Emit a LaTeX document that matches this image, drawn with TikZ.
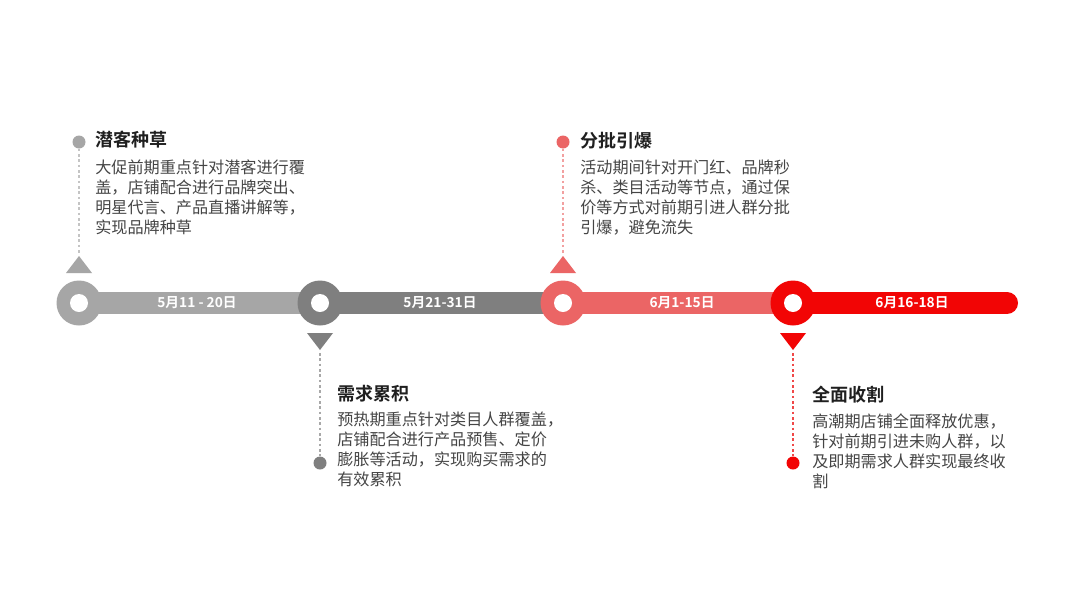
\documentclass[tikz,border=0pt]{standalone}
\usepackage{fontspec}
\setmainfont{Noto Sans CJK SC}[BoldFont={Noto Sans CJK SC Bold}]
\usetikzlibrary{calc}
\definecolor{cA}{HTML}{A6A6A6}
\definecolor{cB}{HTML}{7F7F7F}
\definecolor{cC}{HTML}{EB6565}
\definecolor{cD}{HTML}{F20505}
\definecolor{gA}{HTML}{C4C4C4}
\definecolor{gB}{HTML}{A8A8A8}
\definecolor{gC}{HTML}{F2A0A0}
\definecolor{gD}{HTML}{F04848}
\definecolor{titlec}{HTML}{1F1F1F}
\definecolor{bodyc}{HTML}{454545}
\begin{document}
\begin{tikzpicture}[x=0.75pt,y=-0.75pt,
  ring/.style={circle,inner sep=0pt,minimum size=33.75pt,fill=#1},
  hole/.style={circle,inner sep=0pt,minimum size=13.5pt,fill=white},
  seg/.style={line width=16.5pt,draw=#1},
  dot/.style={circle,inner sep=0pt,minimum size=9.75pt,fill=#1},
  guide/.style={draw=#1,line width=0.9pt,dash pattern=on 2pt off 2pt},
  title/.style={anchor=west,inner sep=0pt,font=\bfseries\fontsize{13.5pt}{16pt}\selectfont,text=titlec},
  body/.style={anchor=north west,inner sep=0pt,align=left,font=\fontsize{12.1pt}{15pt}\selectfont,text=bodyc},
  datelbl/.style={inner sep=0pt,font=\bfseries\fontsize{10.3pt}{12pt}\selectfont,text=white}]
\useasboundingbox[fill=white] (0,0) rectangle (1080,607);

% ring positions
\coordinate (p1) at (79,303);
\coordinate (p2) at (320,303);
\coordinate (p3) at (563,303);
\coordinate (p4) at (793,303);
\coordinate (pend) at (1007,303);

% bar segments
\draw[seg=cA] (p1) -- (p2);
\draw[seg=cB] (p2) -- (p3);
\draw[seg=cC] (p3) -- (p4);
\draw[seg=cD,line cap=round] (p4) -- (pend);

% rings
\node[ring=cA] (c1) at (p1) {};
\node[ring=cB] (c2) at (p2) {};
\node[ring=cC] (c3) at (p3) {};
\node[ring=cD] (c4) at (p4) {};
\node[hole] (h1) at (c1) {};
\node[hole] (h2) at (c2) {};
\node[hole] (h3) at (c3) {};
\node[hole] (h4) at (c4) {};

% date labels
\node[datelbl] (l1) at (197,303) {5月11 - 20日};
\node[datelbl] (l2) at (440,303) {5月21-31日};
\node[datelbl] (l3) at (682,303) {6月1-15日};
\node[datelbl] (l4) at (912,303) {6月16-18日};

% triangles
\fill[cA] (c1.center) ++(-13,-30) -- ++(26,0) -- ++(-13,-17) -- cycle;
\fill[cB] (c2.center) ++(-13,30) -- ++(26,0) -- ++(-13,17) -- cycle;
\fill[cC] (c3.center) ++(-13,-30) -- ++(26,0) -- ++(-13,-17) -- cycle;
\fill[cD] (c4.center) ++(-13,30) -- ++(26,0) -- ++(-13,17) -- cycle;
\coordinate (t1) at ($(c1.center)+(0,-50)$);
\coordinate (t2) at ($(c2.center)+(0,50)$);
\coordinate (t3) at ($(c3.center)+(0,-50)$);
\coordinate (t4) at ($(c4.center)+(0,50)$);

% dots
\node[dot=cA] (d1) at (79,142) {};
\node[dot=cB] (d2) at (320,463) {};
\node[dot=cC] (d3) at (563,142) {};
\node[dot=cD] (d4) at (793,463) {};

% dashed guides
\draw[guide=gA] (d1) -- (t1);
\draw[guide=gB] (t2) -- (d2);
\draw[guide=gC] (d3) -- (t3);
\draw[guide=gD] (t4) -- (d4);

% texts
\node[title] (T1) at (95,140) {潜客种草};
\node[body] (B1) at (95,160) {大促前期重点针对潜客进行覆\\盖，店铺配合进行品牌突出、\\明星代言、产品直播讲解等，\\实现品牌种草};

\node[title] (T2) at (337,394) {需求累积};
\node[body] (B2) at (337,412) {预热期重点针对类目人群覆盖，\\店铺配合进行产品预售、定价\\膨胀等活动，实现购买需求的\\有效累积};

\node[title] (T3) at (580,141) {分批引爆};
\node[body] (B3) at (580,160) {活动期间针对开门红、品牌秒\\杀、类目活动等节点，通过保\\价等方式对前期引进人群分批\\引爆，避免流失};

\node[title] (T4) at (812,395) {全面收割};
\node[body] (B4) at (812,413) {高潮期店铺全面释放优惠，\\针对前期引进未购人群，以\\及即期需求人群实现最终收\\割};
\end{tikzpicture}
\end{document}
